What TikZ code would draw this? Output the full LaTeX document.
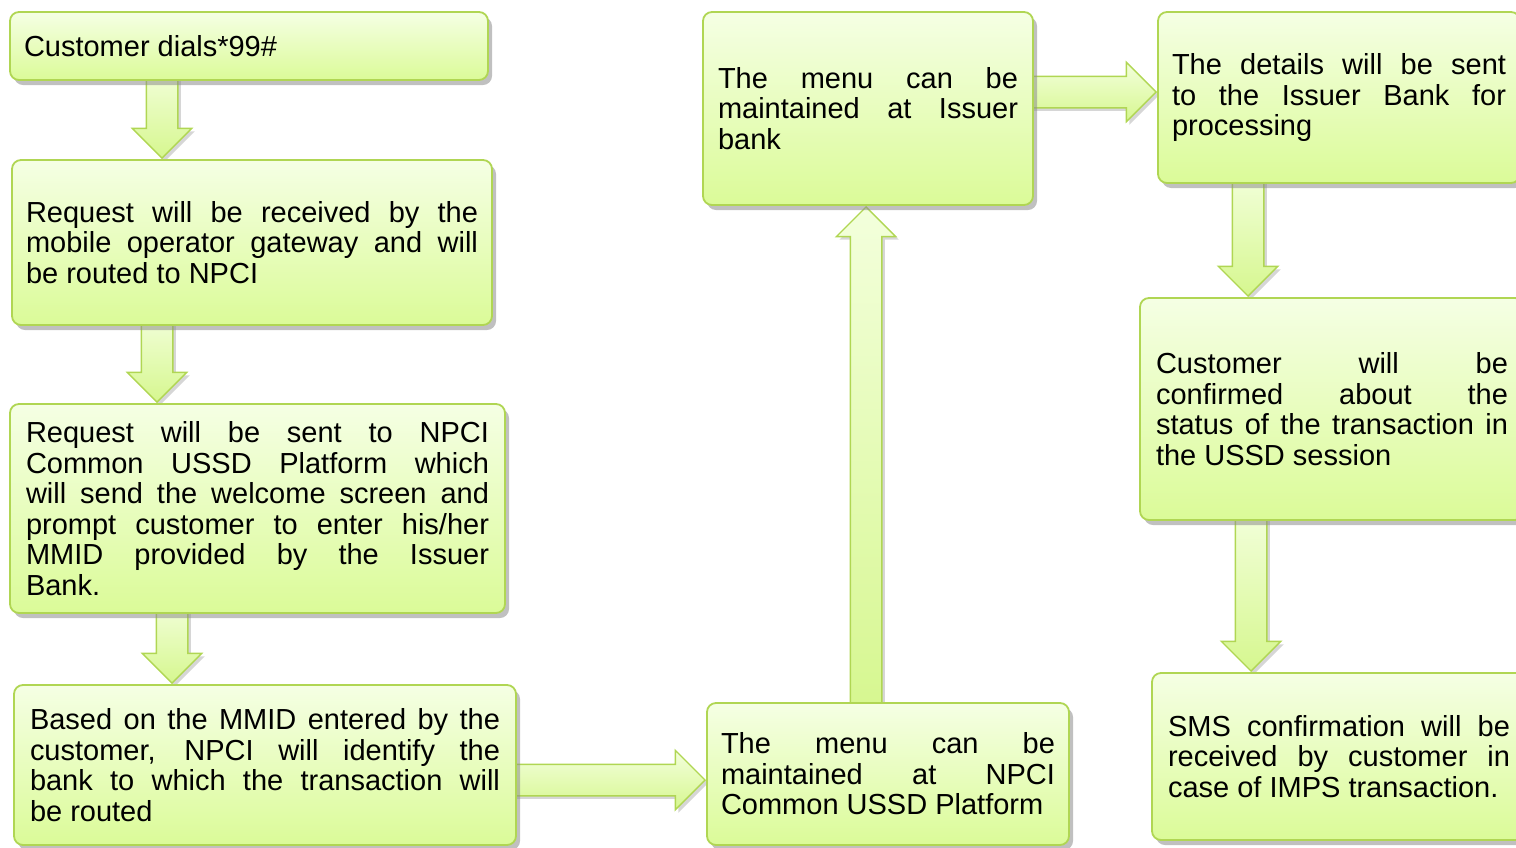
\documentclass[tikz,border=0pt]{standalone}
\usepackage{fontspec}
\setmainfont{Liberation Sans}
\usetikzlibrary{calc,shadows,shapes.arrows,backgrounds}
\definecolor{boxtop}{HTML}{F5FFE4}
\definecolor{boxbot}{HTML}{DBFB98}
\definecolor{boxline}{HTML}{B0D653}
\definecolor{arrtop}{HTML}{F3FFDC}
\definecolor{arrbot}{HTML}{D6F78F}
\tikzset{flowbox/.style = {draw=boxline, line width=1.8pt, rounded corners=9pt,
    top color=boxtop, bottom color=boxbot, inner xsep=14pt, inner ysep=0pt,
    drop shadow={shadow xshift=4pt, shadow yshift=-5pt, fill=black!45, opacity=.55},
    align=justify, font=\fontsize{29}{30.5}\selectfont}}
\tikzset{blockarr/.style = {single arrow, draw=boxline, line width=1.4pt,
    inner xsep=0pt, inner ysep=15pt,
    top color=arrtop, bottom color=arrbot,
    single arrow head extend=14pt, single arrow head indent=0pt,
    drop shadow={shadow xshift=3pt, shadow yshift=-3pt, fill=black!40, opacity=.4}}}
\hyphenpenalty=10000
\tolerance=10000
\newcommand{\flowarrow}[2]{%
  \path let \p1 = (#1), \p2 = (#2), \n1 = {veclen(\x2-\x1,\y2-\y1)+12} in
    (\p1) -- (\p2) node [blockarr, pos=1, anchor=tip, sloped, allow upside down, minimum height=\n1] {};}
\begin{document}
\begin{tikzpicture}[x=1pt, y=-1pt]
  \useasboundingbox (0,0) rectangle (1516,847);
  \clip (0,0) rectangle (1516,847);
  % left column
  \node [flowbox, text width=450pt, minimum height=68pt] (dial) at (249,46) {Customer dials*99\#};
  \node [flowbox, text width=452pt, minimum height=165pt] (recv) at (252,242.5)
    {Request will be received by the\linebreak mobile operator gateway and will\linebreak be routed to NPCI};
  \node [flowbox, inner xsep=16pt, text width=463pt, minimum height=209pt] (sent) at (257.5,508.5)
    {Request will be sent to NPCI\linebreak Common USSD Platform which\linebreak will send the welcome screen and\linebreak prompt customer to enter his/her\linebreak MMID provided by the Issuer\linebreak Bank.};
  \node [flowbox, inner xsep=16pt, text width=470pt, minimum height=160pt] (mmid) at (265,765)
    {Based on the MMID entered by the\linebreak customer, NPCI will identify the\linebreak bank to which the transaction will\linebreak be routed};
  % middle column
  \node [flowbox, text width=334pt, minimum height=142pt] (npci) at (888,774)
    {The menu can be\linebreak maintained at NPCI\linebreak Common USSD Platform};
  \node [flowbox, inner xsep=15pt, text width=300pt, minimum height=193pt] (issuer) at (868,108.5)
    {The menu can be\linebreak maintained at Issuer\linebreak bank};
  % right column
  \node [flowbox, text width=334pt, minimum height=171pt] (details) at (1339,97.5)
    {The details will be sent\linebreak to the Issuer Bank for\linebreak processing};
  \node [flowbox, inner xsep=16pt, text width=352pt, minimum height=222pt] (confirm) at (1332,409)
    {Customer will be\linebreak confirmed about the\linebreak status of the transaction in\linebreak the USSD session};
  \node [flowbox, inner xsep=16pt, text width=342pt, minimum height=167pt] (sms) at (1339,756.5)
    {SMS confirmation will be\linebreak received by customer in\linebreak case of IMPS transaction.};
  % block arrows
  \coordinate (a1) at ($(dial.south west)+(153,0)$);
  \coordinate (a2) at ($(recv.south west)+(146,0)$);
  \coordinate (a3) at ($(sent.south west)+(163,0)$);
  \coordinate (a4) at ($(mmid.north east)+(0,96)$);
  \coordinate (a5) at ($(npci.north west)+(160,0)$);
  \coordinate (a6) at ($(issuer.north east)+(0,81)$);
  \coordinate (a7) at ($(details.south west)+(91,0)$);
  \coordinate (a8) at ($(confirm.south west)+(112,0)$);
  \begin{scope}[on background layer]
    \flowarrow{a1}{a1 |- recv.north}
    \flowarrow{a2}{a2 |- sent.north}
    \flowarrow{a3}{a3 |- mmid.north}
    \flowarrow{a4}{a4 -| npci.west}
    \flowarrow{a5}{a5 |- issuer.south}
    \flowarrow{a6}{a6 -| details.west}
    \flowarrow{a7}{a7 |- confirm.north}
    \flowarrow{a8}{a8 |- sms.north}
  \end{scope}
\end{tikzpicture}
\end{document}
